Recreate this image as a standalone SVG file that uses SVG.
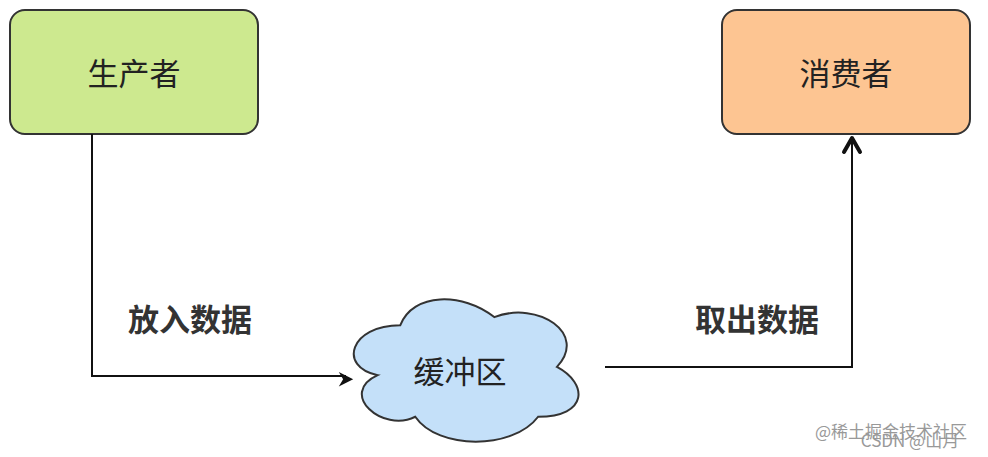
<svg xmlns="http://www.w3.org/2000/svg" width="988" height="457" viewBox="0 0 988 457">
<style>
text{font-family:"Noto Sans CJK SC","Liberation Sans",sans-serif;text-anchor:middle;fill:#222}
.n{font-size:31px}
.l{font-size:31px;font-weight:bold;fill:#333}
.c{fill:none;stroke:#111;stroke-width:2}
</style>
<defs>
<marker id="a1" viewBox="0 0 10 10" refX="9" refY="5" markerWidth="8" markerHeight="8" orient="auto" markerUnits="userSpaceOnUse" overflow="visible">
<path d="M0,0 L10,5 L0,10 L3,5 Z" fill="#111" transform="scale(1.8)"/>
</marker>
<marker id="a2" viewBox="0 0 10 10" refX="10" refY="5" markerWidth="10" markerHeight="10" orient="auto" markerUnits="userSpaceOnUse" overflow="visible">
<path d="M-14,-8 L0,0 L-14,8" fill="none" stroke="#111" stroke-width="4" stroke-linecap="round" stroke-linejoin="round" transform="translate(10,5)"/>
</marker>
</defs>
<rect width="988" height="457" fill="#fff"/>
<g id="producer"><rect x="10" y="10" width="248" height="124" rx="15" fill="#cde98f" stroke="#333" stroke-width="2"/><text class="n" x="134" y="85">生产者</text></g>
<g id="consumer"><rect x="722" y="10" width="248" height="124" rx="15" fill="#fdc592" stroke="#333" stroke-width="2"/><text class="n" x="846" y="85">消费者</text></g>
<g id="buffer"><path transform="translate(464,371) scale(1.1,1.17) translate(-465,-374.5)" vector-effect="non-scaling-stroke" d="M407,335.5 C361.4,335.5 350,371 386.5,378.1 C350,393.7 391,427.8 420.7,413.6 C441.2,442 509.6,442 532.4,413.6 C578,413.6 578,385.2 549.5,371 C578,342.6 532.4,314.2 492.5,328.4 C464,307.1 418.4,307.1 407,335.5 Z" fill="#c4e0f9" stroke="#333" stroke-width="2"/><text class="n" x="460" y="383">缓冲区</text></g>
<g id="connectors">
<path class="c" d="M92,134 V376 H346" marker-end="url(#a1)"/>
<path class="c" d="M605,367 H852 V138" marker-end="url(#a2)"/>
<text class="l" x="190" y="331">放入数据</text>
<text class="l" x="757" y="331">取出数据</text>
</g>
<text x="891" y="438" style="font-size:17px;fill:#999">@稀土掘金技术社区</text>
<text x="910" y="447" style="font-size:17px;fill:#999">CSDN @山月</text>
</svg>
